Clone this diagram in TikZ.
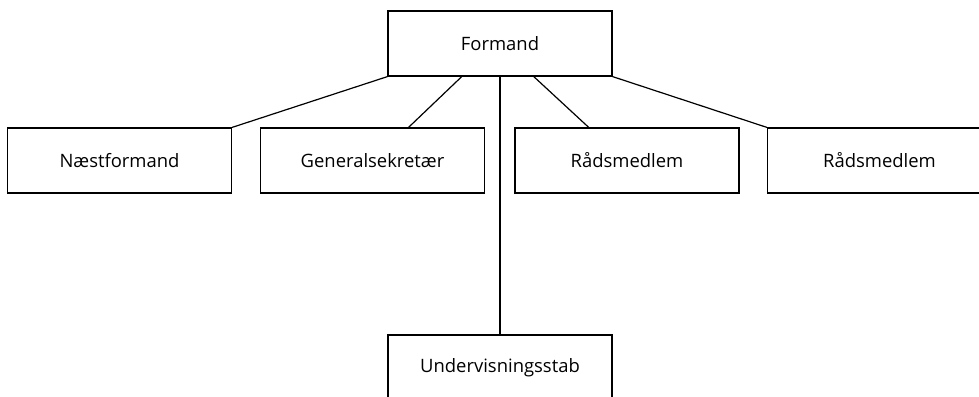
\documentclass[tikz,border=0pt]{standalone}
\usepackage{fontspec}
\setmainfont{Open Sans}
\usetikzlibrary{calc}

\begin{document}
\begin{tikzpicture}%
[x=1bp, y=-1bp, line width=1.2bp,%
box/.style={draw, rectangle, minimum width=224bp, minimum height=65bp, inner sep=0pt, font=\fontsize{18.5}{22}\selectfont},%
link/.style={draw}]
\useasboundingbox (0,0) rectangle (979,396);
\node[box] (formand) at (500,43.5) {Formand};
\node[box] (naest) at (119.5,160.5) {Næstformand};
\node[box] (gensek) at (372.5,160.5) {Generalsekretær};
\node[box] (raad1) at (627,160.5) {Rådsmedlem};
\node[box] (raad2) at (879.5,160.5) {Rådsmedlem};
\node[box] (stab) at (500,367.5) {Undervisningsstab};
\draw[link] (formand.south west) -- (naest.north east);
\draw[link] ($(formand.south west)!0.33!(formand.south east)$) -- ($(gensek.north west)!0.66!(gensek.north east)$);
\draw[link] (formand.south) -- (stab.north);
\draw[link] ($(formand.south west)!0.65!(formand.south east)$) -- ($(raad1.north west)!0.33!(raad1.north east)$);
\draw[link] (formand.south east) -- (raad2.north west);
\end{tikzpicture}
\end{document}
